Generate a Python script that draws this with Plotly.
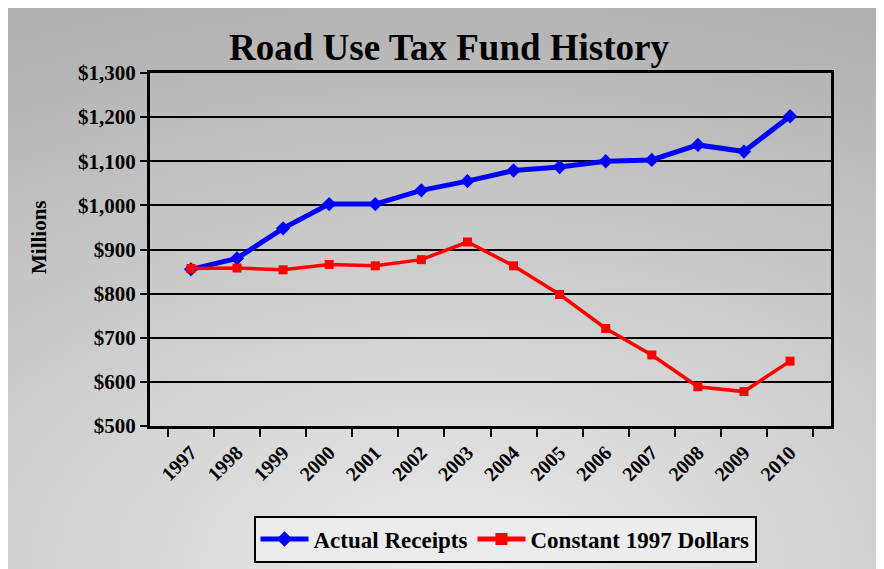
import base64, struct, zlib, math
import plotly.graph_objects as go

years = ['1997', '1998', '1999', '2000', '2001', '2002', '2003',
         '2004', '2005', '2006', '2007', '2008', '2009', '2010']
actual_receipts = [855, 880, 948, 1003, 1003, 1034, 1055, 1079, 1087, 1100, 1103, 1137, 1122, 1202]
constant_1997 = [857, 858, 854, 866, 863, 877, 917, 863, 798, 721, 661, 589, 578, 647]
y_ticks = [500, 600, 700, 800, 900, 1000, 1100, 1200, 1300]
y_tick_text = ['${:,}'.format(v) for v in y_ticks]

# the page body has an 8px margin; the figure is sized to fill the rest
OFF = 8
W, H = 884 - OFF, 569 - OFF

def xp(px):
    return (px - OFF) / W

def yp(py):
    return 1 - (py - OFF) / H

# ---- background gradient as a small PNG (style only) ----
def make_png(w, h, fn):
    raw = bytearray()
    for j in range(h):
        raw.append(0)
        for i in range(w):
            raw.append(fn(i, j))
    def chunk(t, d):
        c = struct.pack('>I', len(d)) + t + d
        return c + struct.pack('>I', zlib.crc32(t + d) & 0xffffffff)
    png = b'\x89PNG\r\n\x1a\n'
    png += chunk(b'IHDR', struct.pack('>IIBBBBB', w, h, 8, 0, 0, 0, 0))
    png += chunk(b'IDAT', zlib.compress(bytes(raw), 9))
    png += chunk(b'IEND', b'')
    return 'data:image/png;base64,' + base64.b64encode(png).decode()

gw, gh = 220, 140
def shade(i, j):
    px = OFF + W * i / (gw - 1)
    py = OFF + H * j / (gh - 1)
    dx = (px - 450) / 1150.0
    dy = (569 - py) / 690.0
    r = math.sqrt(dx * dx + dy * dy)
    return max(0, min(255, int(round(234 - 66 * r))))

bg = make_png(gw, gh, shade)

serif = 'Liberation Serif, Times New Roman, serif'

fig = go.Figure()
fig.add_trace(go.Scatter(
    x=years, y=actual_receipts, name='Actual Receipts', mode='lines+markers',
    line=dict(color='#0000ff', width=5),
    marker=dict(symbol='diamond', size=11, color='#0000ff'),
))
fig.add_trace(go.Scatter(
    x=years, y=constant_1997, name='Constant 1997 Dollars', mode='lines+markers',
    line=dict(color='#ff0000', width=3.5),
    marker=dict(symbol='square', size=9, color='#ff0000'),
))

fig.update_layout(
    width=W, height=H,
    margin=dict(l=0, r=0, t=0, b=0, autoexpand=False),
    paper_bgcolor='white',
    plot_bgcolor='rgba(0,0,0,0)',
    font=dict(family=serif, color='black'),
    showlegend=True,
    legend=dict(
        orientation='h', x=xp(505), xanchor='center', y=yp(539), yanchor='middle',
        bgcolor='#ececec', bordercolor='black', borderwidth=2,
        font=dict(family=serif, size=23, weight='bold', color='black'),
        itemwidth=48, itemsizing='constant',
    ),
    images=[dict(
        source=bg, xref='paper', yref='paper',
        x=0, y=1, sizex=1, sizey=1,
        xanchor='left', yanchor='top', sizing='stretch', layer='below',
    )],
    annotations=[
        dict(text='Road Use Tax Fund History', xref='paper', yref='paper',
             x=xp(449), y=yp(47), showarrow=False, xanchor='center', yanchor='middle',
             font=dict(family=serif, size=37, weight='bold', color='black')),
        dict(text='Millions', xref='paper', yref='paper',
             x=xp(39), y=yp(237), showarrow=False, textangle=-90,
             xanchor='center', yanchor='middle',
             font=dict(family=serif, size=21, weight='bold', color='black')),
    ],
)

fig.update_xaxes(
    domain=[xp(150), xp(831)], type='category', automargin=False,
    showgrid=False, showline=True, linecolor='black', linewidth=3, mirror=True,
    ticks='outside', ticklen=8, tickwidth=2, tickcolor='black', tickson='boundaries',
    tickangle=-45, ticklabelstandoff=4,
    tickfont=dict(family=serif, size=20, weight='bold', color='black'),
)
fig.update_yaxes(
    domain=[yp(426), yp(73)], range=[500, 1300], automargin=False,
    tickvals=y_ticks, ticktext=y_tick_text,
    showgrid=True, gridcolor='black', gridwidth=2,
    showline=True, linecolor='black', linewidth=3, mirror=True,
    ticks='outside', ticklen=7, tickwidth=2, tickcolor='black',
    zeroline=False,
    tickfont=dict(family=serif, size=21, weight='bold', color='black'),
)

fig.write_html('out.html')
